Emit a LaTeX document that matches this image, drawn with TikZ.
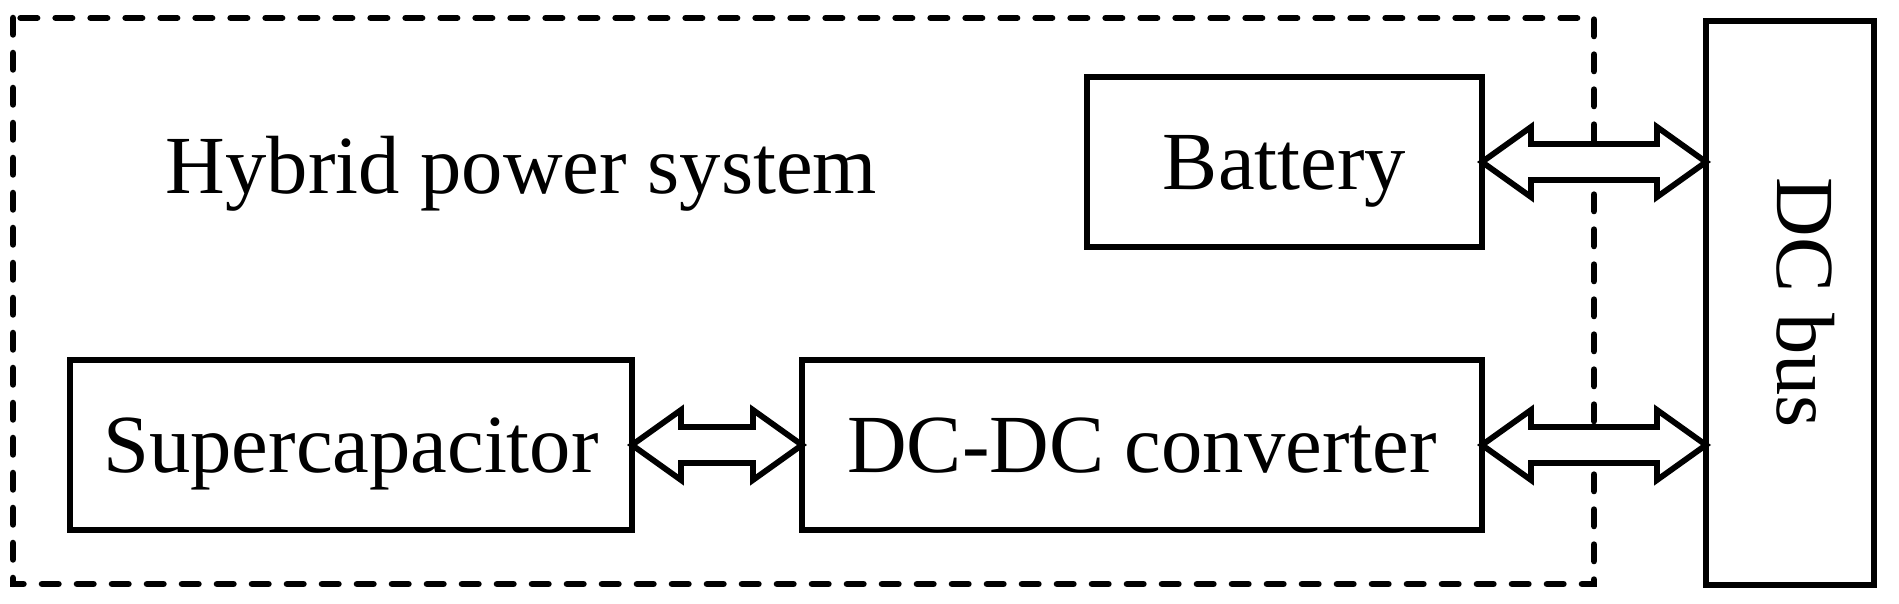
\documentclass[tikz,border=0pt]{standalone}
\usepackage{fontspec}
\setmainfont{Liberation Serif}
\usepackage{tikz}
\usetikzlibrary{positioning,calc}

% hollow two-headed arrow between two node anchors (horizontal)
\newcommand{\dcarrow}[2]{%
  \draw[biarrow] let \p1=(#1), \p2=(#2) in
    (\x1,\y1) -- (\x1+0.49cm,\y1+0.35cm) -- (\x1+0.49cm,\y1+0.18cm)
    -- (\x2-0.49cm,\y1+0.18cm) -- (\x2-0.49cm,\y1+0.35cm) -- (\x2,\y1)
    -- (\x2-0.49cm,\y1-0.35cm) -- (\x2-0.49cm,\y1-0.18cm)
    -- (\x1+0.49cm,\y1-0.18cm) -- (\x1+0.49cm,\y1-0.35cm) -- cycle;}

\begin{document}
\begin{tikzpicture}[
    font=\fontsize{23.5}{28}\selectfont,
    block/.style={rectangle, draw, line width=0.06cm, outer sep=0pt, inner sep=0pt, align=center, text height=15.5pt, text depth=0pt},
    frame/.style={draw, line width=0.065cm, line cap=round, dash pattern=on 0.165cm off 0.185cm},
    biarrow/.style={draw, line width=0.058cm, fill=white, line join=miter}]

    \useasboundingbox (0,0) rectangle (18.99,-6.04);

    % Hybrid power system frame
    \draw[frame] (0.13,-0.18) rectangle (15.94,-5.84);
    \node[anchor=base] (hps) at (5.215,-1.94) {Hybrid power system};

    % Blocks
    \node[block, minimum width=3.95cm, minimum height=1.70cm] (bat) at (12.845,-1.62) {Battery};
    \node[block, minimum width=5.62cm, minimum height=1.70cm] (sc) at (3.51,-4.45) {Supercapacitor};
    \node[block, minimum width=6.80cm, minimum height=1.70cm] (conv) at (11.42,-4.45) {DC-DC converter};

    % DC bus
    \node[block, rotate=-90, text depth=8.1pt, minimum width=5.64cm, minimum height=1.68cm] (bus) at (17.90,-3.03) {DC bus};

    % Arrows
    \dcarrow{bat.east}{bus.south}
    \dcarrow{sc.east}{conv.west}
    \dcarrow{conv.east}{bus.south}
\end{tikzpicture}
\end{document}
